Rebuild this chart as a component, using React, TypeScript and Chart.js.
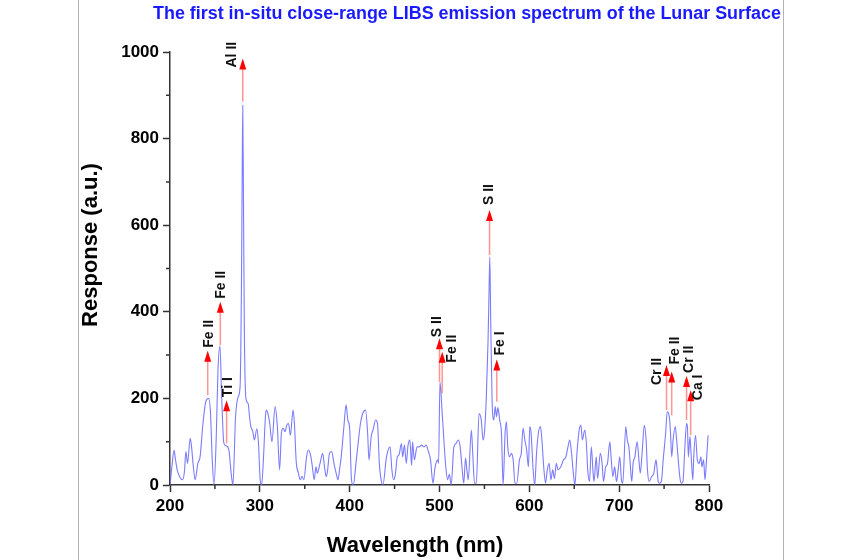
import { useEffect, useRef } from "react";
import { Chart, registerables } from "chart.js";

Chart.register(...registerables);

const FONT = '"Liberation Sans", Arial, Helvetica, sans-serif';

// Spectrum (wavelength in nm, response in a.u.)
const wavelengths = [
  200, 202, 204.5, 206, 208, 211, 214, 216, 217.7, 219.5, 222.5, 224, 226, 228, 231, 233.5, 236.5, 240, 243, 245,
  247, 249, 251.5, 253.4, 255.6, 257.5, 260, 263, 265.5, 268.5, 270, 273, 276, 278, 279.5, 280.3, 281, 281.8, 282.8, 284.5,
  287, 288.5, 290, 292, 294, 296.6, 298.4, 300.4, 302, 304, 306, 307, 309, 311, 313.5, 317, 319.5, 322, 324, 326,
  328, 330, 332, 334, 337, 338.5, 340.5, 343, 345, 347, 349, 352, 354, 356.5, 358.5, 360.5, 362.5, 364, 367, 370,
  372, 374, 375.5, 377.5, 380, 382.5, 385, 387, 389, 390.6, 393.6, 396, 398, 400, 402, 404, 407, 409, 412, 414.5,
  417.7, 420, 421.5, 424, 426, 429, 431, 433, 435, 437, 441, 445, 447, 449, 451, 453, 455, 457.6, 459, 461,
  463, 465, 467, 469, 470, 472, 475, 477, 480, 483, 485, 488, 490, 492.7, 495, 498, 499, 500.5, 503, 505,
  507, 509, 511, 513, 516, 518.5, 521, 523, 525, 527, 529, 530.5, 532, 535.5, 537, 539, 541, 544, 546.5, 548.5,
  550, 552, 554, 555, 556, 557, 558.5, 560.4, 562, 563.5, 565, 567, 569, 570.8, 573, 574.5, 576, 578, 580, 582,
  584, 586, 589, 591, 593, 595, 597, 599, 600.5, 602, 604, 606, 608, 610, 612.4, 614, 616, 618, 620, 622,
  624, 626, 628, 630, 632, 635, 638, 640.7, 643, 645, 647, 649, 650.7, 653, 655.5, 657.5, 659, 661.7, 663.5, 665,
  667, 669, 671, 672, 674.5, 676, 679, 681, 682.5, 685, 687, 689.6, 691, 693, 695, 697, 698.5, 700.7, 702.5, 704,
  707.4, 709, 710.8, 712, 714, 715.5, 717.5, 720, 722, 723.5, 725.5, 728, 730, 731.5, 733.5, 736, 738.5, 741, 742, 743.5,
  745, 747, 749, 751.7, 753.5, 755.8, 757, 758.5, 760, 762.4, 764, 765.5, 767.5, 769, 771, 773, 775, 776, 777, 778.8,
  780, 782, 783, 785, 787, 789, 791, 792, 794, 795.5, 797, 799,
];
const response = [
  0, 40, 80, 60, 35, 18, 12, 30, 77, 50, 108, 88, 42, 12, 50, 65, 138, 194, 200, 170,
  60, 0, 112, 265, 321, 204, 96, 90, 81, 19, 0, 158, 204, 227, 450, 700, 877, 650, 350, 200,
  188, 158, 135, 125, 104, 130, 100, 12, 0, 60, 150, 173, 165, 142, 100, 181, 135, 35, 120, 131,
  123, 138, 142, 115, 173, 142, 54, 27, 12, 20, 12, 65, 81, 69, 42, 12, 42, 27, 50, 73,
  42, 19, 35, 73, 77, 50, 27, 12, 40, 65, 135, 185, 150, 131, 12, 0, 50, 88, 142, 165,
  173, 119, 58, 112, 127, 150, 142, 50, 12, 0, 65, 88, 35, 12, 27, 65, 70, 96, 65, 92,
  50, 92, 104, 45, 100, 58, 88, 88, 92, 88, 92, 75, 58, 4, 40, 58, 50, 238, 165, 100,
  42, 12, 25, 0, 88, 96, 104, 88, 42, 4, 62, 35, 12, 127, 73, 4, 4, 165, 150, 104,
  120, 196, 330, 430, 527, 380, 200, 150, 181, 158, 179, 150, 119, 0, 119, 146, 88, 65, 73, 58,
  4, 4, 58, 73, 131, 104, 81, 42, 135, 119, 42, 0, 73, 119, 135, 104, 42, 4, 35, 50,
  12, 35, 15, 50, 35, 42, 58, 65, 88, 104, 73, 27, 0, 73, 127, 138, 104, 127, 96, 35,
  8, 88, 27, 8, 65, 15, 73, 50, 8, 42, 50, 100, 65, 19, 42, 8, 27, 65, 12, 4,
  135, 104, 88, 58, 8, 50, 65, 100, 58, 27, 73, 138, 104, 35, 8, 19, 27, 58, 42, 8,
  4, 8, 58, 119, 169, 158, 127, 65, 104, 135, 104, 65, 19, 4, 8, 81, 142, 135, 65, 112,
  73, 12, 65, 115, 58, 50, 65, 42, 58, 12, 50, 115,
];

// Emission line annotations
const lineLabels = ["Fe II", "Fe II", "Ti I", "Al II", "S II", "Fe II", "S II", "Fe I", "Cr II", "Fe II", "Cr II", "Ca I"];
const lineWavelengths = [242, 256, 263, 281, 500, 503, 555.7, 563.8, 752.7, 758.5, 775, 779.6];
const arrowBase = [208, 323, 96, 885, 238, 212, 531, 192, 173, 161, 150, 115];
const arrowTip = [310, 423, 196, 985, 339, 308, 635, 290, 277, 262, 252, 219];

// Label placement relative to arrow tip (pixels) - style only
const labelDx = [1, 1, 2, -11, -2.5, 10, 0, 3.5, -9, 3, 2.5, 7];
const labelDy = [-3, -3, -3, 9, -1, 11, -5, -4, 20, -7, -3, 10];

const xTicksMinor = [250, 350, 450, 550, 650, 750];
const yTicksMinor = [100, 300, 500, 700, 900];

const TITLE = "The first in-situ close-range LIBS emission spectrum of the Lunar Surface";
const X_TITLE = "Wavelength (nm)";
const Y_TITLE = "Response (a.u.)";

const decor = {
  id: "decor",
  beforeDraw(chart: any) {
    const ctx = chart.ctx;
    ctx.save();
    ctx.fillStyle = "#ffffff";
    ctx.fillRect(0, 0, chart.width, chart.height);
    ctx.strokeStyle = "#b4b4b4";
    ctx.lineWidth = 1;
    ctx.beginPath();
    ctx.moveTo(78.5, 0);
    ctx.lineTo(78.5, chart.height);
    ctx.moveTo(783.5, 0);
    ctx.lineTo(783.5, chart.height);
    ctx.stroke();
    ctx.restore();
  },
  afterDraw(chart: any) {
    const ctx = chart.ctx;
    const xs = chart.scales.x;
    const ys = chart.scales.y;
    const area = chart.chartArea;
    ctx.save();

    // minor ticks
    ctx.strokeStyle = "#333";
    ctx.lineWidth = 1.5;
    ctx.beginPath();
    for (const v of xTicksMinor) {
      const px = xs.getPixelForValue(v);
      ctx.moveTo(px, area.bottom);
      ctx.lineTo(px, area.bottom + 4);
    }
    for (const v of yTicksMinor) {
      const py = ys.getPixelForValue(v);
      ctx.moveTo(area.left, py);
      ctx.lineTo(area.left - 4, py);
    }
    ctx.stroke();

    // arrows
    for (let i = 0; i < lineLabels.length; i++) {
      const px = xs.getPixelForValue(lineWavelengths[i]);
      const pb = ys.getPixelForValue(arrowBase[i]);
      const pt = ys.getPixelForValue(arrowTip[i]);
      ctx.strokeStyle = "rgba(255,60,60,0.55)";
      ctx.lineWidth = 1.5;
      ctx.beginPath();
      ctx.moveTo(px, pb);
      ctx.lineTo(px, pt + 8);
      ctx.stroke();
      ctx.fillStyle = "#ff0000";
      ctx.beginPath();
      ctx.moveTo(px, pt);
      ctx.lineTo(px - 3.5, pt + 11);
      ctx.lineTo(px + 3.5, pt + 11);
      ctx.closePath();
      ctx.fill();

      ctx.save();
      ctx.translate(px + labelDx[i], pt + labelDy[i]);
      ctx.rotate(-Math.PI / 2);
      ctx.fillStyle = "#111";
      ctx.font = `bold 14px ${FONT}`;
      ctx.textAlign = "left";
      ctx.textBaseline = "middle";
      ctx.fillText(lineLabels[i], 0, 0);
      ctx.restore();
    }

    // title
    ctx.fillStyle = "#1a1aff";
    let size = 15;
    ctx.font = `bold ${size}px ${FONT}`;
    const w = ctx.measureText(TITLE).width;
    size = (size * 628) / w;
    ctx.font = `bold ${size}px ${FONT}`;
    ctx.textAlign = "left";
    ctx.textBaseline = "middle";
    ctx.fillText(TITLE, 153, 14);

    // axis titles
    ctx.fillStyle = "#000";
    ctx.font = `bold 22px ${FONT}`;
    ctx.textAlign = "center";
    ctx.textBaseline = "middle";
    ctx.fillText(X_TITLE, 415, 546);
    ctx.save();
    ctx.translate(91, 245);
    ctx.rotate(-Math.PI / 2);
    ctx.fillText(Y_TITLE, 0, 0);
    ctx.restore();

    ctx.restore();
  },
};

export default function App() {
  const ref = useRef<HTMLCanvasElement>(null);

  useEffect(() => {
    const canvas = ref.current;
    if (!canvas) return;
    const points = wavelengths.map((w, i) => ({ x: w, y: response[i] }));
    const tickFont = { family: FONT, size: 17, weight: "bold" as const };
    const plain = (v: any) => String(v);
    const chart = new Chart(canvas, {
      type: "line",
      data: {
        datasets: [
          {
            data: points,
            borderColor: "rgba(100,100,255,0.85)",
            borderWidth: 1.1,
            pointRadius: 0,
            fill: false,
            cubicInterpolationMode: "monotone",
          },
        ],
      },
      options: {
        animation: false,
        responsive: false,
        maintainAspectRatio: false,
        layout: { padding: { top: 52, right: 141, bottom: 0, left: 0 } },
        plugins: { legend: { display: false }, tooltip: { enabled: false }, title: { display: false } },
        scales: {
          x: {
            type: "linear",
            min: 200,
            max: 800,
            ticks: { stepSize: 100, color: "#000", font: tickFont, padding: 4, maxRotation: 0, autoSkip: false, callback: plain },
            grid: { drawOnChartArea: false, drawTicks: true, tickLength: 7, tickWidth: 1.5, tickColor: "#333" },
            border: { display: true, color: "#333", width: 1.5 },
            afterFit: (s: any) => {
              s.height = 75;
            },
          },
          y: {
            type: "linear",
            min: 0,
            max: 1000,
            ticks: { stepSize: 200, color: "#000", font: tickFont, padding: 4, autoSkip: false, callback: plain },
            grid: { drawOnChartArea: false, drawTicks: true, tickLength: 7, tickWidth: 1.5, tickColor: "#333" },
            border: { display: true, color: "#333", width: 1.5 },
            afterFit: (s: any) => {
              s.width = 170;
            },
          },
        },
      },
      plugins: [decor],
    });
    return () => chart.destroy();
  }, []);

  return (
    <div style={{ position: "absolute", left: 0, top: 0, width: 850, height: 560 }}>
      <canvas ref={ref} width={850} height={560} style={{ width: 850, height: 560, display: "block" }} />
    </div>
  );
}
